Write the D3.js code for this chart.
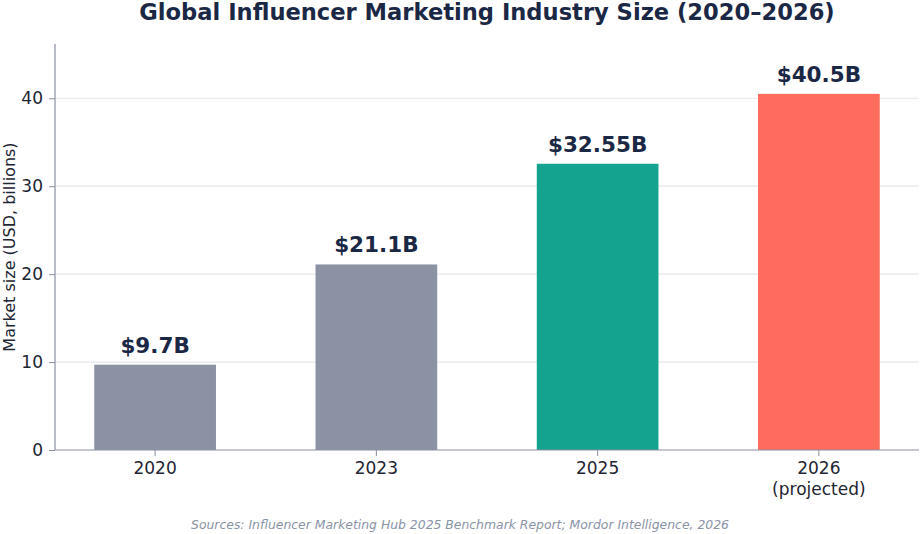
<!DOCTYPE html>
<html>
<head>
<meta charset="utf-8">
<script src="https://cdn.jsdelivr.net/npm/d3@7"></script>
<style>
  body { margin: 0; background: #fff; }
  svg { display: block; font-family: "DejaVu Sans", sans-serif; }
</style>
</head>
<body>
<div id="chart"></div>
<script>
const years = ["2020", "2023", "2025", "2026"];
const subLabels = ["", "", "", "(projected)"];
const sizes = [9.7, 21.1, 32.55, 40.5];
const valueLabels = ["$9.7B", "$21.1B", "$32.55B", "$40.5B"];
const barColors = ["#8a92a4", "#8a92a4", "#14a38f", "#ff6b5c"];
const yTicks = [0, 10, 20, 30, 40];

const width = 920, height = 534;
const margin = { top: 44, right: 1, bottom: 84, left: 55 };
const w = width - margin.left - margin.right;
const h = height - margin.top - margin.bottom;

const svg = d3.select("#chart").append("svg")
  .attr("width", width)
  .attr("height", height);

const g = svg.append("g")
  .attr("transform", `translate(${margin.left},${margin.top})`);

const x = d3.scaleBand().domain(years).range([0, w])
  .paddingInner(0.45).paddingOuter(0.1775);
const y = d3.scaleLinear().domain([0, d3.max(sizes) * 1.14]).range([h, 0]);

// gridlines
g.selectAll("line.grid")
  .data(yTicks.filter(d => d > 0))
  .join("line")
  .attr("class", "grid")
  .attr("x1", 0).attr("x2", w)
  .attr("y1", d => y(d)).attr("y2", d => y(d))
  .attr("stroke", "#e3e6eb")
  .attr("stroke-width", 1.2);

g.selectAll("rect")
  .data(sizes)
  .join("rect")
  .attr("x", (d, i) => x(years[i]))
  .attr("y", d => y(d))
  .attr("width", x.bandwidth())
  .attr("height", d => h - y(d))
  .attr("fill", (d, i) => barColors[i]);

g.selectAll("text.val")
  .data(sizes)
  .join("text")
  .attr("class", "val")
  .attr("x", (d, i) => x(years[i]) + x.bandwidth() / 2)
  .attr("y", d => y(d) - 12)
  .attr("text-anchor", "middle")
  .attr("font-size", 21.5)
  .attr("font-weight", "bold")
  .attr("fill", "#1b2845")
  .text((d, i) => valueLabels[i]);

// axes
const yAxis = g.append("g")
  .call(d3.axisLeft(y).tickValues(yTicks).tickSize(6).tickPadding(6));
yAxis.select(".domain").remove();
yAxis.selectAll("line").attr("stroke", "#8a90a0");
yAxis.selectAll("text")
  .attr("font-size", 17)
  .attr("font-family", "DejaVu Sans")
  .attr("fill", "#1e2533");

g.append("line")
  .attr("x1", 0).attr("x2", 0).attr("y1", 0).attr("y2", h)
  .attr("stroke", "#8a90a0").attr("stroke-width", 1.2);

const xAxis = g.append("g")
  .attr("transform", `translate(0,${h})`)
  .call(d3.axisBottom(x).tickSize(6).tickPadding(5));
xAxis.select(".domain").remove();
xAxis.selectAll("line").attr("stroke", "#8a90a0");
xAxis.selectAll("text").remove();

g.append("line")
  .attr("x1", 0).attr("x2", w).attr("y1", h).attr("y2", h)
  .attr("stroke", "#8a90a0").attr("stroke-width", 1.2);

const xl = g.selectAll("text.xl")
  .data(years)
  .join("text")
  .attr("class", "xl")
  .attr("x", d => x(d) + x.bandwidth() / 2)
  .attr("y", h + 24)
  .attr("text-anchor", "middle")
  .attr("font-size", 17)
  .attr("fill", "#1e2533");
xl.append("tspan").attr("x", d => x(d) + x.bandwidth() / 2).text(d => d);
xl.append("tspan")
  .attr("x", d => x(d) + x.bandwidth() / 2)
  .attr("dy", 21)
  .text((d, i) => subLabels[i]);

// y label
svg.append("text")
  .attr("transform", `translate(15,${margin.top + h / 2}) rotate(-90)`)
  .attr("text-anchor", "middle")
  .attr("font-size", 16)
  .attr("fill", "#1e2533")
  .text("Market size (USD, billions)");

// title
svg.append("text")
  .attr("x", margin.left + w / 2)
  .attr("y", 20)
  .attr("text-anchor", "middle")
  .attr("font-size", 22.6)
  .attr("font-weight", "bold")
  .attr("fill", "#1b2845")
  .text("Global Influencer Marketing Industry Size (2020–2026)");

// source
svg.append("text")
  .attr("x", width / 2)
  .attr("y", 529)
  .attr("text-anchor", "middle")
  .attr("font-size", 12.4)
  .attr("font-style", "italic")
  .attr("fill", "#8a93a6")
  .text("Sources: Influencer Marketing Hub 2025 Benchmark Report; Mordor Intelligence, 2026");
</script>
</body>
</html>
